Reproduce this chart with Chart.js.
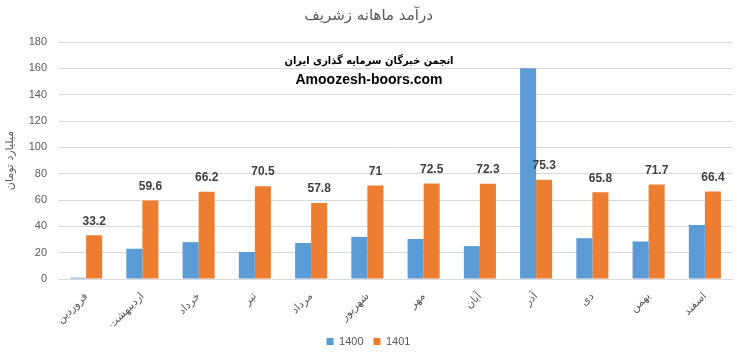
<!DOCTYPE html>
<html>
<head>
<meta charset="utf-8">
<script src="https://cdn.jsdelivr.net/npm/chart.js@4"></script>
<style>
  html, body { margin: 0; padding: 0; background: #fff; }
  #wrap { width: 747px; height: 359px; }
</style>
</head>
<body>
<div id="wrap"><canvas id="chart" width="747" height="359"></canvas></div>
<script>
const months = ['فروردین', 'اردیبهشت', 'خرداد', 'تیر', 'مرداد', 'شهریور', 'مهر', 'آبان', 'آذر', 'دی', 'بهمن', 'اسفند'];
const sales1400 = [1, 23, 28, 20.5, 27.3, 32, 30.4, 25, 160, 31, 28.5, 41];
const sales1401 = [33.2, 59.6, 66.2, 70.5, 57.8, 71, 72.5, 72.3, 75.3, 65.8, 71.7, 66.4];
const yTicks = [0, 20, 40, 60, 80, 100, 120, 140, 160, 180];

const persianFont = "'DejaVu Sans', sans-serif";
const latinFont = "'Liberation Sans', Arial, sans-serif";

// value labels above the 1401 bars + the watermark text
const overlayPlugin = {
    id: 'overlay',
    afterDatasetsDraw(chart) {
        const ctx = chart.ctx;
        const meta = chart.getDatasetMeta(1);
        ctx.save();
        ctx.font = 'bold 12px ' + latinFont;
        ctx.fillStyle = '#404040';
        ctx.textAlign = 'center';
        ctx.textBaseline = 'middle';
        meta.data.forEach((bar, i) => {
            ctx.fillText(String(sales1401[i]), bar.x, bar.y - 14);
        });
        ctx.restore();
    },
    afterDraw(chart) {
        const ctx = chart.ctx;
        ctx.save();
        ctx.fillStyle = '#000';
        ctx.textAlign = 'center';
        ctx.textBaseline = 'middle';
        ctx.font = "bold 11px 'DejaVu Sans Condensed', 'DejaVu Sans', sans-serif";
        ctx.fillText('انجمن خبرگان سرمایه گذاری ایران', 369, 61);
        ctx.font = 'bold 14px ' + latinFont;
        ctx.fillText('Amoozesh-boors.com', 369, 80);
        ctx.restore();
    }
};

new Chart(document.getElementById('chart'), {
    type: 'bar',
    data: {
        labels: months,
        datasets: [
            {label: '1400', data: sales1400, backgroundColor: '#5B9BD5'},
            {label: '1401', data: sales1401, backgroundColor: '#ED7D31'}
        ]
    },
    options: {
        responsive: false,
        devicePixelRatio: 1,
        animation: false,
        categoryPercentage: 0.57,
        barPercentage: 1,
        layout: {padding: {left: 4, right: 14, top: 0, bottom: 2}},
        plugins: {
            title: {
                display: true,
                text: 'درآمد ماهانه زشریف',
                color: '#595959',
                font: {family: persianFont, size: 15, weight: 'normal'},
                padding: {top: 7, bottom: 17}
            },
            legend: {
                position: 'bottom',
                labels: {
                    boxWidth: 7, boxHeight: 7, padding: 10,
                    color: '#595959',
                    font: {family: latinFont, size: 11}
                }
            },
            tooltip: {enabled: false}
        },
        scales: {
            x: {
                grid: {display: false},
                border: {color: '#D9D9D9'},
                afterFit: axis => { axis.height = 47; },
                ticks: {
                    minRotation: 45, maxRotation: 45,
                    color: '#595959',
                    font: {family: persianFont, size: 11}
                }
            },
            y: {
                min: yTicks[0],
                max: yTicks[yTicks.length - 1],
                afterBuildTicks: axis => { axis.ticks = yTicks.map(v => ({value: v})); },
                afterFit: axis => { axis.width = 54; },
                grid: {color: '#D9D9D9', drawTicks: false},
                border: {display: false},
                ticks: {
                    padding: 11,
                    color: '#595959',
                    font: {family: latinFont, size: 11}
                },
                title: {
                    display: true,
                    text: 'میلیارد تومان',
                    color: '#595959',
                    font: {family: persianFont, size: 11},
                    padding: {top: 0, bottom: 0}
                }
            }
        }
    },
    plugins: [overlayPlugin]
});
</script>
</body>
</html>
